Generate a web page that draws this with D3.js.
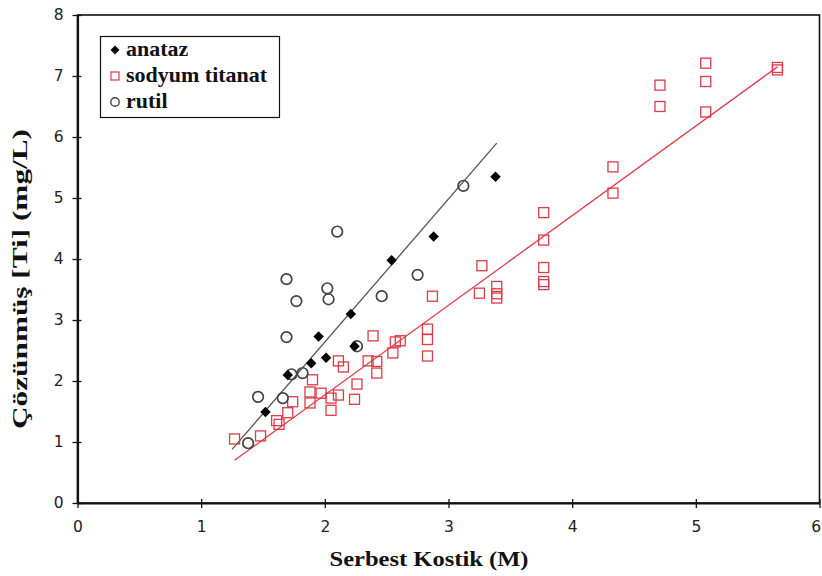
<!DOCTYPE html>
<html>
<head>
<meta charset="utf-8">
<script src="https://cdn.jsdelivr.net/npm/d3@7/dist/d3.min.js"></script>
<style>
  body { margin: 0; background: #fff; }
  svg { display: block; }
</style>
</head>
<body>
<svg id="chart" width="822" height="576"></svg>
<script>
// Free caustic concentration (M) vs dissolved Ti (mg/L)
const anatazX = [1.52, 1.70, 1.89, 1.95, 2.01, 2.21, 2.24, 2.54, 2.88, 3.38];
const anatazY = [1.49, 2.10, 2.29, 2.73, 2.38, 3.10, 2.57, 3.98, 4.37, 5.35];

const sodyumX = [1.27, 1.48, 1.61, 1.63, 1.70, 1.74, 1.88, 1.88, 1.90, 1.97,
                 2.05, 2.05, 2.11, 2.11, 2.15, 2.24, 2.26, 2.35, 2.42, 2.42,
                 2.39, 2.55, 2.61, 2.57, 2.83, 2.83, 2.83, 2.87, 3.25, 3.27,
                 3.39, 3.39, 3.39, 3.77, 3.77, 3.77, 3.77, 3.77, 4.33, 4.33,
                 4.71, 4.71, 5.08, 5.08, 5.08, 5.66, 5.66];
const sodyumY = [1.05, 1.10, 1.35, 1.29, 1.48, 1.66, 1.82, 1.64, 2.02, 1.80,
                 1.72, 1.52, 1.77, 2.33, 2.23, 1.70, 1.95, 2.33, 2.32, 2.13,
                 2.74, 2.46, 2.66, 2.64, 2.85, 2.68, 2.41, 3.39, 3.44, 3.89,
                 3.55, 3.43, 3.36, 4.76, 4.31, 3.86, 3.63, 3.58, 5.51, 5.08,
                 6.85, 6.50, 7.21, 6.91, 6.41, 7.14, 7.10];

const rutilX = [1.46, 1.38, 1.66, 1.73, 1.82, 1.69, 1.77, 1.69, 2.02, 2.03,
                2.10, 2.26, 2.46, 2.75, 3.12];
const rutilY = [1.74, 0.98, 1.72, 2.11, 2.13, 2.72, 3.31, 3.67, 3.52, 3.34,
                4.45, 2.57, 3.39, 3.74, 5.20];

// Linear fit lines (start and end points)
const anatazFit = [[1.25, 0.88], [3.39, 5.90]];
const sodyumFit = [[1.27, 0.70], [5.66, 7.15]];

const xTicks = [0, 1, 2, 3, 4, 5, 6];
const yTicks = [0, 1, 2, 3, 4, 5, 6, 7, 8];
const seriesNames = ["anataz", "sodyum titanat", "rutil"];

const RED = "#dd3b48";
const GREY = "#444";
const SERIF = "'Liberation Serif', 'Times New Roman', serif";

const svg = d3.select("#chart");
const x = d3.scaleLinear().domain([0, 6]).range([77.5, 819.5]);
const y = d3.scaleLinear().domain([0, 8]).range([503, 15]);

// Plot frame
svg.append("rect")
  .attr("x", x(0)).attr("y", y(8))
  .attr("width", x(6) - x(0)).attr("height", y(0) - y(8))
  .attr("fill", "none").attr("stroke", "#111").attr("stroke-width", 1.6);

// Axes
const tickFont = "'DejaVu Sans', Verdana, sans-serif";
const gx = svg.append("g").attr("transform", `translate(0,${y(0)})`)
  .call(d3.axisBottom(x).tickValues(xTicks).tickFormat(d3.format("d"))
    .tickSizeInner(5).tickSizeOuter(0).tickPadding(13));
const gy = svg.append("g").attr("transform", `translate(${x(0)},0)`)
  .call(d3.axisLeft(y).tickValues(yTicks).tickFormat(d3.format("d"))
    .tickSizeInner(5).tickSizeOuter(0).tickPadding(9));

[gx, gy].forEach(g => {
  g.select(".domain").attr("stroke", "#111").attr("stroke-width", 2.2);
  g.selectAll(".tick line").attr("stroke", "#111").attr("stroke-width", 1.3);
  g.selectAll(".tick text")
    .attr("font-family", tickFont).attr("font-size", 15.5).attr("fill", "#222");
});
// ticks cross the axis line
gx.selectAll(".tick line").attr("y1", -4);
gy.selectAll(".tick line").attr("x1", 4);
// keep the last x label inside the page
gx.selectAll(".tick text").filter(d => d === 6).attr("text-anchor", "end").attr("dx", 1);

// Axis titles
svg.append("text")
  .attr("x", 429).attr("y", 566)
  .attr("text-anchor", "middle")
  .attr("font-family", SERIF)
  .attr("font-weight", "bold").attr("font-size", 22).attr("fill", "#111")
  .attr("textLength", 199).attr("lengthAdjust", "spacingAndGlyphs")
  .text("Serbest Kostik (M)");

svg.append("text")
  .attr("transform", "translate(27,279) rotate(-90)")
  .attr("text-anchor", "middle")
  .attr("font-family", SERIF)
  .attr("font-weight", "bold").attr("font-size", 21).attr("fill", "#111")
  .attr("textLength", 300).attr("lengthAdjust", "spacingAndGlyphs")
  .text("Çözünmüş [Ti] (mg/L)");

// Fit lines
const line = d3.line().x(d => x(d[0])).y(d => y(d[1]));
svg.append("path").datum(anatazFit).attr("d", line)
  .attr("fill", "none").attr("stroke", "#555").attr("stroke-width", 1.3);
svg.append("path").datum(sodyumFit).attr("d", line)
  .attr("fill", "none").attr("stroke", RED).attr("stroke-width", 1.3);

// Markers
const sq = 10;
svg.append("g").selectAll("rect")
  .data(d3.zip(sodyumX, sodyumY)).join("rect")
  .attr("x", d => x(d[0]) - sq / 2).attr("y", d => y(d[1]) - sq / 2)
  .attr("width", sq).attr("height", sq)
  .attr("fill", "none").attr("stroke", RED).attr("stroke-width", 1.3);

svg.append("g").selectAll("circle")
  .data(d3.zip(rutilX, rutilY)).join("circle")
  .attr("cx", d => x(d[0])).attr("cy", d => y(d[1])).attr("r", 5.3)
  .attr("fill", "none").attr("stroke", GREY).attr("stroke-width", 1.7);

const diamond = d3.symbol().type(d3.symbolDiamond2).size(70);
svg.append("g").selectAll("path")
  .data(d3.zip(anatazX, anatazY)).join("path")
  .attr("transform", d => `translate(${x(d[0])},${y(d[1])})`)
  .attr("d", diamond).attr("fill", "#000");

// Legend
const lg = svg.append("g");
lg.append("rect").attr("x", 100.5).attr("y", 36.5).attr("width", 179).attr("height", 81)
  .attr("fill", "#fff").attr("stroke", "#111").attr("stroke-width", 1.2);
const rowY = [50, 76, 102];
lg.append("path").attr("transform", `translate(115,${rowY[0]})`)
  .attr("d", d3.symbol().type(d3.symbolDiamond2).size(50)).attr("fill", "#000");
lg.append("rect").attr("x", 111).attr("y", rowY[1] - 4).attr("width", 8).attr("height", 8)
  .attr("fill", "none").attr("stroke", RED).attr("stroke-width", 1.2);
lg.append("circle").attr("cx", 115).attr("cy", rowY[2]).attr("r", 4.2)
  .attr("fill", "none").attr("stroke", GREY).attr("stroke-width", 1.4);
lg.selectAll("text.lbl").data(seriesNames).join("text").attr("class", "lbl")
  .attr("x", 126).attr("y", (d, i) => rowY[i] + 6)
  .attr("font-family", SERIF)
  .attr("font-weight", "bold").attr("font-size", 22).attr("fill", "#111")
  .text(d => d);
</script>
</body>
</html>
